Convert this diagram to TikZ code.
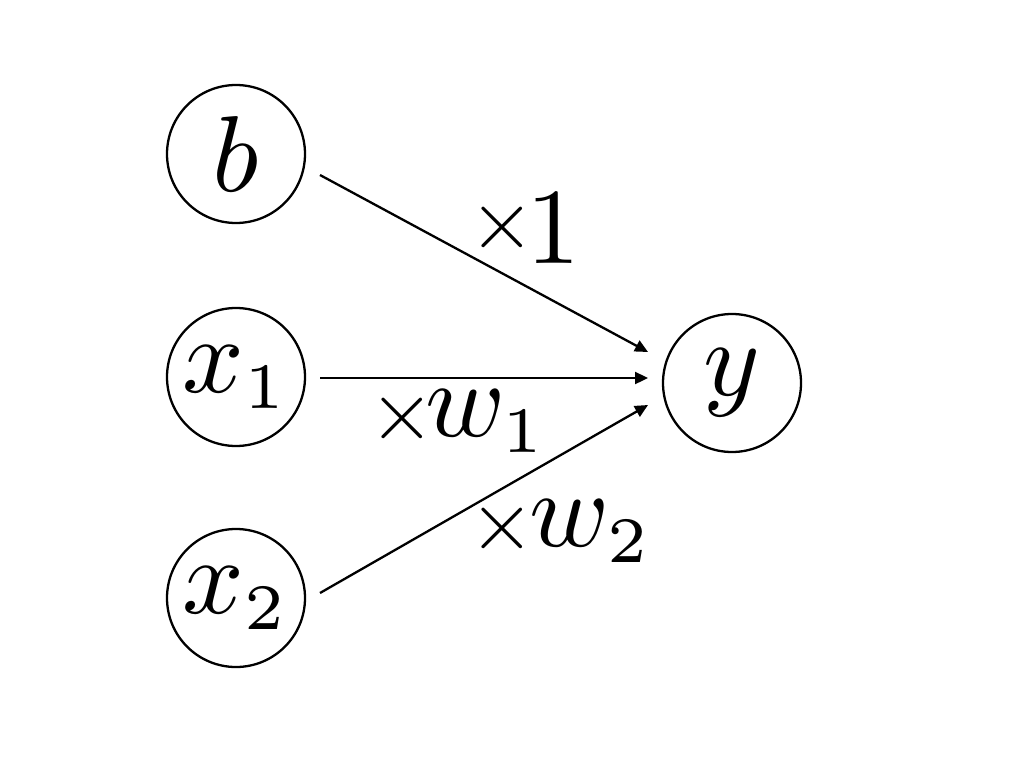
\documentclass[tikz,border=0pt]{standalone}
\usepackage{graphicx}
\usetikzlibrary{arrows.meta,calc}
\DeclareMathSizes{10}{10}{6}{5}
\newcommand\Bm[1]{\scalebox{10.8}{$#1$}}
\newcommand\tms[1]{\raisebox{#1}{\scalebox{0.78}{$\times$}}}
\begin{document}
\begin{tikzpicture}[x=1pt,y=-1pt,
  neuron/.style={draw,circle,line width=2.3pt,minimum size=138pt,inner sep=0pt},
  wlabel/.style={inner sep=0pt,anchor=base west},
  arr/.style={line width=2.3pt,-{Triangle[length=13pt,width=12pt]}}]
\useasboundingbox (0,0) rectangle (1024,768);
\node[neuron] (b) at (236,154) {\Bm{b}};
\node[neuron] (x1) at (236,377) {\Bm{x_1}};
\node[neuron] (x2) at (236,598) {\Bm{x_2}};
\node[neuron] (y) at (732,383) {\Bm{y}};
\coordinate (s1) at ($(b.center)+(84,21)$);
\coordinate (s2) at ($(x1.center)+(84,1)$);
\coordinate (s3) at ($(x2.center)+(84,-5)$);
\coordinate (e1) at ($(y.center)+(-84,-31)$);
\coordinate (e2) at ($(y.center)+(-84,-5)$);
\coordinate (e3) at ($(y.center)+(-84,22)$);
\draw[arr] (s1) -- (e1);
\draw[arr] (s2) -- (e2);
\draw[arr] (s3) -- (e3);
\node[wlabel] (l1) at (469.5,263) {\Bm{\tms{1.34pt}\kern-0.8pt 1}};
\node[wlabel] (l2) at (369.5,436) {\Bm{\tms{-0.28pt}\kern-0.9pt w_1}};
\node[wlabel] (l3) at (469.5,546) {\Bm{\tms{-0.28pt}\kern-0.5pt w_2}};
\end{tikzpicture}
\end{document}
